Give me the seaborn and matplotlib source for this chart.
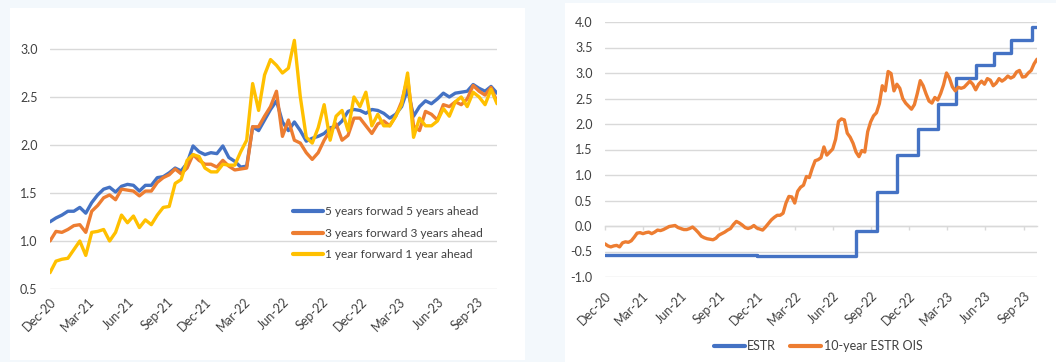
import matplotlib
matplotlib.use("Agg")
import matplotlib.pyplot as plt
import matplotlib.dates as mdates
from matplotlib.patches import Rectangle
import pandas as pd
import seaborn as sns

# ---- Forward inflation swap rates (biweekly, %) ----
fwd_start = "2020-12-01"
fwd_periods = 76
fwd_5y5y = [1.20, 1.24, 1.27, 1.31, 1.31, 1.35, 1.29, 1.40, 1.48, 1.54,
            1.56, 1.51, 1.57, 1.59, 1.58, 1.52, 1.58, 1.58, 1.66, 1.67,
            1.71, 1.76, 1.73, 1.81, 1.99, 1.93, 1.90, 1.92, 1.91, 1.99,
            1.87, 1.83, 1.77, 1.78, 2.19, 2.15, 2.26, 2.37, 2.46, 2.24,
            2.15, 2.24, 2.15, 2.04, 2.07, 2.09, 2.12, 2.18, 2.19, 2.25,
            2.35, 2.37, 2.36, 2.33, 2.37, 2.36, 2.33, 2.28, 2.32, 2.40,
            2.58, 2.30, 2.40, 2.46, 2.43, 2.48, 2.54, 2.50, 2.54, 2.55,
            2.56, 2.63, 2.59, 2.56, 2.61, 2.54]
fwd_3y3y = [1.00, 1.10, 1.09, 1.12, 1.16, 1.17, 1.09, 1.31, 1.37, 1.45,
            1.48, 1.43, 1.54, 1.53, 1.52, 1.47, 1.52, 1.52, 1.61, 1.66,
            1.69, 1.75, 1.70, 1.76, 1.90, 1.84, 1.80, 1.80, 1.77, 1.84,
            1.78, 1.74, 1.75, 1.76, 2.19, 2.19, 2.30, 2.40, 2.56, 2.09,
            2.26, 2.05, 2.02, 1.92, 1.85, 1.92, 2.05, 2.15, 2.22, 2.05,
            2.10, 2.28, 2.28, 2.20, 2.12, 2.22, 2.25, 2.20, 2.30, 2.45,
            2.70, 2.20, 2.15, 2.35, 2.32, 2.26, 2.42, 2.40, 2.45, 2.42,
            2.48, 2.62, 2.56, 2.52, 2.60, 2.45]
fwd_1y1y = [0.67, 0.79, 0.81, 0.82, 0.91, 1.00, 0.85, 1.09, 1.10, 1.12,
            1.00, 1.09, 1.27, 1.19, 1.26, 1.14, 1.22, 1.17, 1.27, 1.35,
            1.36, 1.60, 1.64, 1.84, 1.90, 1.88, 1.76, 1.72, 1.72, 1.80,
            1.79, 1.79, 1.93, 2.05, 2.64, 2.36, 2.73, 2.89, 2.83, 2.75,
            2.80, 3.09, 2.50, 2.08, 2.02, 2.18, 2.42, 2.05, 2.30, 2.36,
            2.15, 2.50, 2.40, 2.55, 2.20, 2.32, 2.20, 2.20, 2.30, 2.42,
            2.75, 2.08, 2.28, 2.20, 2.20, 2.25, 2.38, 2.30, 2.45, 2.50,
            2.40, 2.55, 2.50, 2.42, 2.58, 2.43]
fwd_labels = ["5 years forwad 5 years ahead",
              "3 years forward 3 years ahead",
              "1 year forward 1 year ahead"]

# ---- 10-year ESTR OIS (weekly, %) ----
ois_start = "2020-12-01"
ois_periods = 149
ois_10y = [-0.35, -0.39, -0.41, -0.39, -0.38, -0.41, -0.33, -0.31, -0.32, -0.29,
           -0.22, -0.14, -0.13, -0.15, -0.13, -0.12, -0.15, -0.12, -0.08, -0.09,
           -0.07, -0.04, -0.01, 0.00, 0.01, -0.03, -0.05, -0.07, -0.07, -0.05,
           -0.02, -0.07, -0.13, -0.20, -0.23, -0.25, -0.26, -0.27, -0.24, -0.18,
           -0.15, -0.12, -0.08, -0.05, 0.03, 0.09, 0.06, 0.02, -0.03, -0.05,
           -0.03, 0.01, -0.04, -0.06, -0.08, -0.02, 0.05, 0.12, 0.17, 0.21,
           0.21, 0.25, 0.45, 0.58, 0.57, 0.45, 0.68, 0.76, 0.80, 0.97,
           0.95, 1.13, 1.28, 1.30, 1.34, 1.55, 1.39, 1.45, 1.51, 1.70,
           2.05, 2.10, 2.08, 1.82, 1.74, 1.62, 1.45, 1.36, 1.48, 1.45,
           1.85, 2.04, 2.16, 2.22, 2.40, 2.75, 2.65, 3.03, 2.99, 2.65,
           2.78, 2.70, 2.50, 2.41, 2.35, 2.29, 2.38, 2.60, 2.85, 2.75,
           2.59, 2.45, 2.41, 2.52, 2.47, 2.60, 2.77, 3.00, 2.90, 2.73,
           2.65, 2.72, 2.70, 2.72, 2.78, 2.84, 2.78, 2.67, 2.78, 2.84,
           2.78, 2.89, 2.86, 2.75, 2.80, 2.89, 2.84, 2.88, 2.94, 2.90,
           2.93, 3.02, 3.05, 2.92, 2.93, 3.00, 3.05, 3.18, 3.27]

# ---- ESTR level (value from each date on, %) ----
estr_dates = ["2020-12-01", "2021-06-01", "2021-12-01", "2022-04-01", "2022-07-27",
              "2022-09-14", "2022-11-02", "2022-12-21", "2023-02-08", "2023-03-22",
              "2023-05-10", "2023-06-21", "2023-08-02", "2023-09-20", "2023-10-02"]
estr_vals = [-0.56, -0.57, -0.58, -0.59, -0.09, 0.66, 1.40, 1.90, 2.40, 2.90,
             3.15, 3.40, 3.65, 3.90, 3.90]

left_yticks = [0.5, 1.0, 1.5, 2.0, 2.5, 3.0]
right_yticks = [-1.0, -0.5, 0.0, 0.5, 1.0, 1.5, 2.0, 2.5, 3.0, 3.5, 4.0]

BLUE, ORANGE, YELLOW = "#4472C4", "#ED7D31", "#FFC000"
GRID = "#d9d9d9"
TXT = "#404040"

sns.set_theme(style="white")
plt.rcParams["font.family"] = ["Lato", "DejaVu Sans"]

W, H = 1056, 362
fig = plt.figure(figsize=(W / 100, H / 100), dpi=100)
fig.patch.set_facecolor("#f3f8fc")

# white panel cards
fig.add_artist(Rectangle((10 / W, 2 / H), 515 / W, 352 / H, transform=fig.transFigure,
                         facecolor="white", edgecolor="none", zorder=0))
fig.add_artist(Rectangle((565 / W, 0), 491 / W, 359 / H, transform=fig.transFigure,
                         facecolor="white", edgecolor="none", zorder=0))


def px_axes(x0, x1, ytop, ybot):
    return fig.add_axes([x0 / W, (H - ybot) / H, (x1 - x0) / W, (ybot - ytop) / H])


def style_axes(ax, yticks, xpad, ypad):
    ax.set_facecolor("none")
    for s in ax.spines.values():
        s.set_visible(False)
    ax.set_yticks(yticks)
    ax.set_yticklabels([f"{v:.1f}" for v in yticks])
    ax.grid(axis="y", color=GRID, linewidth=1.0)
    ax.grid(axis="x", visible=False)
    ax.set_axisbelow(True)
    ax.tick_params(axis="both", length=0, colors=TXT, labelsize=9)
    ax.tick_params(axis="x", pad=xpad)
    ax.tick_params(axis="y", pad=ypad)
    ax.xaxis.set_major_locator(mdates.MonthLocator(bymonth=[3, 6, 9, 12]))
    ax.xaxis.set_major_formatter(mdates.DateFormatter("%b-%y"))
    for lab in ax.get_xticklabels():
        lab.set_rotation(45)
        lab.set_ha("right")
        lab.set_rotation_mode("anchor")
    ax.set_xlabel("")
    ax.set_ylabel("")


# ---------- left chart ----------
fwd_dates = pd.date_range(fwd_start, periods=fwd_periods, freq="14D")
fwd_df = pd.DataFrame({
    "date": list(fwd_dates) * 3,
    "value": fwd_5y5y + fwd_3y3y + fwd_1y1y,
    "series": [fwd_labels[0]] * fwd_periods + [fwd_labels[1]] * fwd_periods
              + [fwd_labels[2]] * fwd_periods,
})

axL = px_axes(50, 497, 34.6, 289)
sns.lineplot(data=fwd_df, x="date", y="value", hue="series", hue_order=fwd_labels,
             palette=[BLUE, ORANGE, YELLOW], linewidth=2.4, ax=axL, legend=False)
axL.set_xlim(fwd_dates[0], fwd_dates[-1])
axL.set_ylim(0.5, 3.15)
style_axes(axL, left_yticks, 5, 9)
hL = [plt.Line2D([], [], color=c, linewidth=3) for c in (BLUE, ORANGE, YELLOW)]
axL.legend(hL, fwd_labels, loc="upper left", bbox_to_anchor=(0.53, 0.35),
           frameon=False, fontsize=8.6, handlelength=2.5, handletextpad=0.2,
           labelspacing=0.9, borderpad=0, labelcolor=TXT)

# ---------- right chart ----------
ois_dates = pd.date_range(ois_start, periods=ois_periods, freq="7D")
ois_df = pd.DataFrame({"date": ois_dates, "value": ois_10y})
estr_df = pd.DataFrame({"date": pd.to_datetime(estr_dates), "value": estr_vals})

axR = px_axes(605, 1037, 22, 277)
sns.lineplot(data=estr_df, x="date", y="value", color=BLUE, linewidth=2.4,
             drawstyle="steps-post", ax=axR, label="ESTR")
sns.lineplot(data=ois_df, x="date", y="value", color=ORANGE, linewidth=2.4,
             ax=axR, label="10-year ESTR OIS")
axR.set_xlim(pd.Timestamp("2020-12-01"), ois_dates[-1])
axR.set_ylim(-1.0, 4.0)
style_axes(axR, right_yticks, 9, 9)
axR.legend_.remove()

# horizontal category axis crossing at zero with small tick marks
sec = axR.secondary_xaxis(0.2)
sec.xaxis.set_major_locator(mdates.MonthLocator(bymonth=[3, 6, 9, 12]))
sec.tick_params(axis="x", direction="out", length=3, color=GRID, width=1,
                labelbottom=False)
sec.spines["bottom"].set_color(GRID)
sec.spines["bottom"].set_linewidth(1.0)

hR = [plt.Line2D([], [], color=c, linewidth=3) for c in (BLUE, ORANGE)]
fig.legend(hR, ["ESTR", "10-year ESTR OIS"], loc="center",
           bbox_to_anchor=(818 / W, (H - 346) / H), ncol=2, frameon=False,
           fontsize=9, handlelength=2.5, handletextpad=0.2, columnspacing=1.1,
           labelcolor=TXT)

fig.savefig("out.png", dpi=100, facecolor=fig.get_facecolor())
